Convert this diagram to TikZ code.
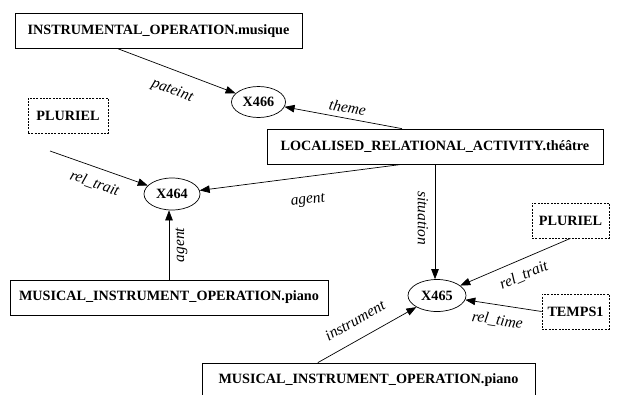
\documentclass[tikz,border=0pt]{standalone}
\usepackage{fontspec}
\setmainfont{Liberation Serif}
\usetikzlibrary{shapes.geometric,arrows.meta,calc}
\begin{document}
\begin{tikzpicture}[x=1pt,y=-1pt,
  box/.style={draw, rectangle, minimum height=35pt, inner sep=0pt, line width=0.7pt,
    font=\fontsize{14.2}{16}\selectfont\bfseries},
  dbox/.style={box, dash pattern=on 2pt off 1.3pt},
  ell/.style={draw, ellipse, inner sep=0pt, line width=0.7pt,
    font=\fontsize{14.2}{16}\selectfont\bfseries},
  arr/.style={-{Triangle[length=10pt,width=7.5pt]}, line width=0.7pt},
  lbl/.style={font=\fontsize{15.5}{17}\selectfont\itshape, sloped, inner sep=0pt}
]
\useasboundingbox (0,0) rectangle (617,394);
\clip (0,0) rectangle (617,394);

\node[box, minimum width=287pt] (inst) at (158.5,31) {INSTRUMENTAL\_OPERATION.musique};
\node[dbox, minimum width=80pt] (plurL) at (68,115.5) {PLURIEL};
\node[ell, minimum width=54pt, minimum height=31pt] (x466) at (258.5,102) {X466};
\node[box, minimum width=336pt] (loc) at (435,146.5) {LOCALISED\_RELATIONAL\_ACTIVITY.théâtre};
\node[ell, minimum width=56pt, minimum height=32pt] (x464) at (172,194) {X464};
\node[box, minimum width=318pt] (mip1) at (169,297.5) {MUSICAL\_INSTRUMENT\_OPERATION.piano};
\node[ell, minimum width=58pt, minimum height=32pt] (x465) at (437,295.5) {X465};
\node[dbox, minimum width=77pt] (plurR) at (570.5,220.5) {PLURIEL};
\node[dbox, minimum width=67pt] (temps) at (575.5,311.5) {TEMPS1};
\node[box, minimum width=333pt] (mip2) at (368.5,380.5) {MUSICAL\_INSTRUMENT\_OPERATION.piano};

\coordinate (sI) at ($(inst.south west)!0.36!(inst.south east)$);
\coordinate (sTh) at ($(loc.north west)!0.402!(loc.north east)$);
\coordinate (sAg) at ($(loc.south west)!0.402!(loc.south east)$);
\coordinate (sRL) at (50,151);
\coordinate (sIn) at ($(mip2.north west)!0.348!(mip2.north east)$);

\draw[arr] (sI) -- (x466) node[lbl, pos=0.52, below=13pt] {pateint};
\draw[arr] (sTh) -- (x466) node[lbl, pos=0.48, above=5pt] {theme};
\draw[arr] (sAg) -- (x464) node[lbl, pos=0.48, below=18pt] {agent};
\draw[arr] (sRL) -- (x464) node[lbl, pos=0.51, below=9pt] {rel\_trait};
\draw[arr] (mip1.north) -- (mip1.north |- x464.south) node[lbl, pos=0.5, below=6pt] {agent};
\draw[arr] (loc.south) -- (loc.south |- x465.north) node[lbl, pos=0.47, below=6.5pt] {situation};
\draw[arr] (plurR.south) -- (x465) node[lbl, pos=0.48, below=9pt] {rel\_trait};
\draw[arr] (temps.west) -- (x465) node[lbl, pos=0.55, below=9pt] {rel\_time};
\draw[arr] (sIn) -- (x465) node[lbl, pos=0.47, above=13pt] {instrument};
\end{tikzpicture}
\end{document}
